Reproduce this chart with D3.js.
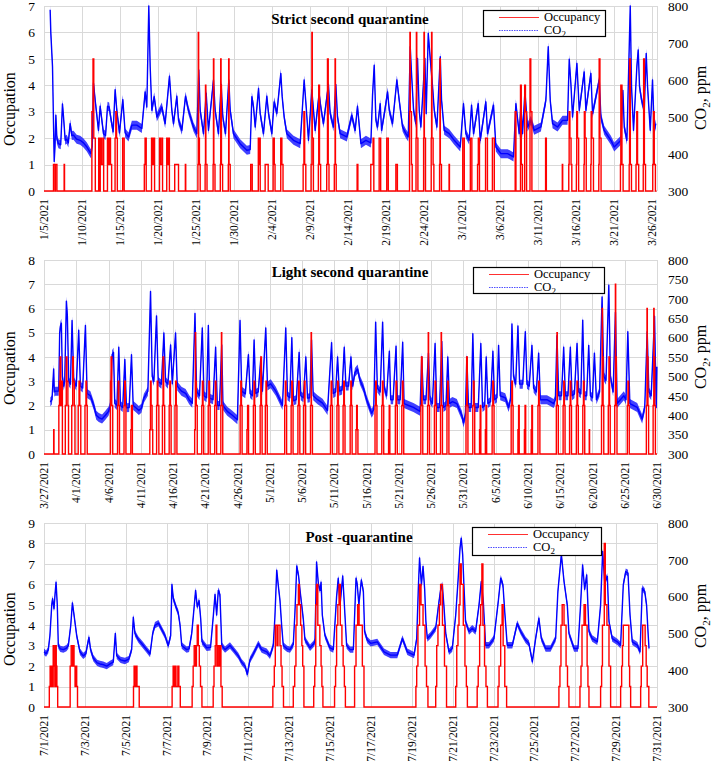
<!DOCTYPE html>
<html><head><meta charset="utf-8">
<script src="https://cdn.jsdelivr.net/npm/d3@7"></script>
<style>body{margin:0;background:#fff} text{font-family:"Liberation Serif","Times New Roman",serif;fill:#000}</style>
</head><body><svg id="c" width="714" height="765"></svg>
<script>
// ---------- DATA (time in days from each panel's first date) ----------
// Panel 1: Strict second quarantine (from 1/5/2021)
const p1Co2 = [[0.81,790],[0.9,726],[1.12,636],[1.34,380],[1.45,420],[1.56,505],[1.7,440],[1.9,428],[2.2,425],[2.43,535],[2.57,500],[2.79,437],[3.0,440],[3.2,430],[3.44,482],[3.66,450],[3.88,451],[4.3,440],[4.76,437],[5.2,430],[5.64,419],[6.16,401],[6.35,420],[6.51,592],[6.73,546],[7.17,464],[7.39,529],[7.83,455],[8.1,450],[8.36,529],[8.57,527],[8.84,491],[9.1,460],[9.36,574],[9.58,518],[9.93,457],[10.37,547],[10.68,457],[11.12,446],[11.56,478],[12.22,478],[12.87,469],[13.31,568],[13.53,527],[13.79,800],[13.97,636],[14.19,518],[14.5,555],[14.85,500],[15.5,527],[15.94,482],[16.51,610],[16.82,518],[17.04,482],[17.48,556],[17.7,491],[18.14,464],[18.62,556],[19.01,518],[19.67,473],[20.11,455],[20.37,627],[20.55,518],[20.99,455],[21.34,564],[21.64,464],[22.3,600],[22.52,518],[22.96,455],[23.31,588],[23.53,500],[23.88,455],[24.32,600],[24.5,518],[24.93,455],[25.81,428],[26.69,410],[27.13,412],[27.35,555],[27.57,527],[27.79,473],[28.23,577],[28.44,510],[28.88,455],[29.32,556],[29.54,510],[29.98,455],[30.28,541],[30.64,510],[31.16,618],[31.34,555],[31.6,500],[31.95,455],[32.83,437],[33.71,428],[34.23,600],[34.5,527],[34.8,437],[35.24,573],[35.68,464],[36.2,564],[36.42,527],[36.77,482],[37.43,588],[37.65,510],[38.09,473],[38.4,588],[38.62,500],[38.97,455],[39.85,446],[40.5,504],[40.94,464],[41.25,529],[41.7,428],[42.36,437],[43.01,430],[43.23,559],[43.45,640],[43.67,491],[43.89,473],[44.24,536],[44.42,464],[44.85,518],[45.21,568],[45.43,518],[45.86,482],[46.43,600],[46.74,545],[47.18,473],[47.62,455],[47.93,446],[48.19,690],[48.36,618],[48.63,518],[48.93,482],[49.15,658],[49.37,518],[49.59,473],[50.12,658],[50.29,509],[50.56,726],[50.82,658],[51.13,582],[51.35,518],[51.7,473],[52.14,663],[52.31,546],[52.66,464],[53.32,455],[53.98,437],[54.77,419],[55.2,536],[55.51,455],[55.95,437],[56.26,532],[56.52,455],[57.14,536],[57.4,437],[58.14,541],[58.36,455],[59.15,532],[59.46,419],[60.12,401],[61.0,401],[61.78,392],[62.09,536],[62.53,455],[62.75,532],[62.97,455],[63.28,568],[63.63,473],[64.07,491],[64.5,464],[65.38,473],[66.04,545],[66.35,690],[66.61,545],[66.92,482],[67.57,473],[68.23,491],[68.89,491],[69.11,656],[69.33,590],[69.55,500],[70.12,645],[70.43,518],[71.08,622],[71.3,518],[71.96,618],[72.18,509],[73.06,600],[73.28,500],[73.71,464],[74.59,437],[75.03,419],[75.91,437],[76.17,572],[76.35,473],[76.7,437],[77.14,800],[77.31,582],[77.57,464],[78.01,636],[78.19,681],[78.36,582],[78.63,546],[78.98,518],[79.24,672],[79.42,582],[79.77,464],[80.07,600],[80.29,464],[80.51,482]];
const p1Occ = [[0,0],[1.25,1],[1.45,0],[1.5,1],[1.7,0],[2.65,1],[2.7,0],[6.3,3],[6.45,5],[6.55,2],[6.75,0],[7.2,2],[7.3,0],[7.4,2],[7.55,1],[7.75,2],[7.85,0],[8.35,2],[8.45,1],[8.6,2],[8.75,1],[8.9,0],[9.35,2],[9.45,3],[9.55,2],[9.65,0],[10.35,2],[10.55,0],[13.2,1],[13.3,2],[13.45,0],[14.15,2],[14.3,1],[14.45,2],[14.55,0],[15.2,2],[15.3,1],[15.5,2],[15.6,0],[16.15,2],[16.3,1],[16.4,2],[16.5,0],[17.2,1],[17.7,0],[18.6,1],[18.65,0],[20.25,1],[20.3,6],[20.35,2],[20.45,1],[20.55,0],[21.2,1],[21.25,4],[21.3,1],[21.45,0],[22.25,1],[22.3,5],[22.35,1],[22.5,0],[23.2,1],[23.25,5],[23.3,4],[23.35,1],[23.5,0],[24.25,1],[24.3,5],[24.35,1],[24.5,0],[27.2,1],[27.4,0],[28.2,2],[28.3,1],[28.4,2],[28.45,0],[29.1,1],[29.5,0],[30.15,2],[30.3,1],[30.4,0],[31.15,2],[31.3,1],[31.45,0],[34.1,1],[34.2,3],[34.3,1],[34.45,0],[35.15,1],[35.25,6],[35.3,2],[35.45,0],[36.1,1],[36.15,4],[36.25,1],[36.4,0],[37.2,1],[37.3,5],[37.4,1],[37.5,0],[38.2,1],[38.3,5],[38.35,1],[38.45,0],[41.2,1],[41.3,0],[43.0,1],[43.3,2],[43.4,0],[44.1,2],[44.3,0],[45.1,2],[45.3,0],[46.3,1],[46.5,0],[48.1,3],[48.15,6],[48.2,3],[48.35,1],[48.45,0],[48.95,2],[49.0,6],[49.05,2],[49.2,0],[49.95,2],[50.0,6],[50.05,2],[50.2,0],[50.95,2],[51.0,6],[51.05,2],[51.2,1],[51.3,0],[52.05,1],[52.1,5],[52.15,1],[52.3,0],[53.3,1],[53.35,0],[55.1,2],[55.3,0],[56.1,2],[56.3,0],[57.05,1],[57.15,2],[57.3,0],[58.1,2],[58.35,0],[59.0,2],[59.25,0],[62.0,3],[62.1,0],[62.7,4],[62.8,1],[62.95,0],[63.25,4],[63.35,3],[63.5,0],[63.95,5],[64.05,3],[64.2,0],[66.0,2],[66.1,0],[68.2,1],[68.25,0],[69.05,1],[69.1,3],[69.2,2],[69.35,1],[69.45,0],[70.05,1],[70.1,3],[70.2,2],[70.35,0],[71.05,1],[71.1,3],[71.2,2],[71.35,0],[71.95,1],[72.0,3],[72.1,2],[72.3,0],[73.0,1],[73.05,5],[73.15,2],[73.3,0],[75.85,1],[75.9,4],[76.05,1],[76.2,0],[77.0,1],[77.05,5],[77.15,1],[77.3,0],[77.9,1],[78.0,3],[78.1,1],[78.25,0],[78.85,1],[78.9,5],[79.0,1],[79.15,0],[80.1,1],[80.2,3],[80.3,1],[80.45,0],[80.6,0]];

// Panel 2: Light second quarantine (from 3/27/2021)
const p2Co2 = [[0.98,434],[1.24,440],[1.5,519],[1.6,460],[1.76,462],[2.28,462],[2.43,612],[2.55,630],[2.69,637],[2.85,500],[3.05,475],[3.21,487],[3.47,694],[3.62,656],[3.83,487],[4.1,480],[4.35,644],[4.61,487],[5.0,475],[5.38,619],[5.64,475],[6.0,470],[6.42,631],[6.68,456],[7.19,450],[7.71,425],[8.1,400],[8.49,394],[9.0,390],[9.52,400],[10.0,410],[10.3,425],[10.56,556],[10.77,562],[10.97,431],[11.3,425],[11.59,575],[11.85,425],[12.2,420],[12.53,544],[12.78,419],[13.2,420],[13.56,556],[13.82,425],[14.2,420],[14.7,412],[15.1,418],[15.48,444],[16.1,462],[16.51,719],[16.77,500],[17.03,487],[17.44,656],[17.7,487],[18.2,480],[18.58,612],[18.84,487],[19.2,480],[19.62,581],[19.88,481],[20.39,612],[20.65,475],[21.3,462],[21.95,456],[22.5,440],[22.98,431],[23.4,662],[23.65,462],[24.1,450],[24.53,625],[24.79,450],[25.2,445],[25.47,631],[25.67,444],[26.2,440],[26.6,575],[26.86,425],[27.2,425],[27.54,581],[27.74,425],[28.4,410],[29.19,400],[29.97,388],[30.38,644],[30.64,462],[31.2,455],[31.68,556],[31.94,456],[32.3,450],[32.56,594],[32.82,456],[33.2,460],[33.59,544],[33.85,462],[34.37,625],[34.63,475],[35.14,481],[35.92,462],[36.44,444],[36.96,425],[37.47,625],[37.73,450],[38.1,445],[38.41,600],[38.66,437],[39.1,440],[39.54,562],[39.8,450],[40.2,445],[40.58,550],[40.84,444],[41.2,445],[41.46,594],[41.72,450],[42.4,440],[43.17,431],[43.94,412],[44.57,587],[44.82,456],[45.2,460],[45.5,550],[45.76,462],[46.2,465],[46.53,575],[46.79,475],[47.2,475],[47.57,550],[47.83,475],[48.19,510],[48.6,519],[48.97,490],[49.5,470],[50.0,440],[50.78,405],[51.1,415],[51.4,640],[51.66,470],[52.1,460],[52.48,640],[52.74,470],[53.1,450],[53.52,565],[53.73,440],[54.1,440],[54.56,578],[54.76,440],[55.2,440],[55.59,588],[55.8,430],[56.5,425],[57.25,420],[58.28,410],[58.54,550],[58.8,440],[59.2,440],[59.58,560],[59.83,440],[60.2,430],[60.61,585],[60.87,420],[61.3,420],[61.65,590],[61.9,420],[62.3,425],[62.58,550],[62.84,430],[63.3,435],[63.98,430],[64.75,400],[65.01,380],[65.3,400],[65.53,550],[65.79,420],[66.2,420],[66.46,610],[66.72,420],[67.3,420],[67.7,585],[67.96,420],[68.3,425],[68.53,550],[68.79,430],[69.2,435],[69.57,565],[69.82,440],[70.2,445],[70.45,580],[70.7,450],[71.48,445],[72.0,420],[72.3,440],[72.52,635],[72.77,500],[73.1,480],[73.45,630],[73.71,480],[74.2,480],[74.59,615],[74.85,480],[75.2,475],[75.62,580],[75.88,470],[76.3,460],[76.66,560],[76.92,440],[77.95,440],[78.99,430],[79.25,440],[79.5,605],[79.76,450],[80.2,450],[80.54,575],[80.8,450],[81.2,450],[81.57,575],[81.83,450],[82.2,455],[82.61,585],[82.87,460],[83.2,455],[83.49,645],[83.75,450],[84.1,450],[84.42,580],[84.68,450],[85.0,445],[85.3,560],[85.61,440],[86.1,460],[86.49,705],[86.75,500],[87.1,490],[87.53,735],[87.78,500],[88.2,460],[88.56,665],[88.82,430],[89.86,450],[90.2,440],[90.48,615],[90.79,430],[91.93,420],[92.7,390],[93.1,420],[93.48,615],[93.74,460],[94.1,450],[94.62,655],[94.88,420],[94.98,525]];
const p2Occ = [[0,0],[1.5,1],[1.55,0],[2.3,2],[2.4,3],[2.5,4],[2.6,2],[2.75,3],[2.85,0],[3.3,2],[3.45,4],[3.55,3],[3.7,2],[3.8,0],[4.3,2],[4.45,4],[4.55,3],[4.7,2],[4.8,0],[5.3,2],[5.43,3],[5.55,2],[5.7,0],[6.35,2],[6.5,3],[6.6,2],[6.7,0],[10.3,3],[10.4,4],[10.5,2],[10.65,0],[11.4,2],[11.5,3],[11.6,2],[11.7,0],[12.4,2],[12.5,3],[12.6,2],[12.7,0],[13.45,1],[13.55,2],[13.7,0],[16.4,1],[16.5,3],[16.6,2],[16.75,1],[16.85,0],[17.45,2],[17.55,3],[17.65,2],[17.8,0],[18.35,2],[18.45,4],[18.55,2],[18.7,0],[19.4,2],[19.5,3],[19.6,2],[19.7,0],[20.3,2],[20.4,3],[20.5,2],[20.6,0],[23.35,1],[23.45,5],[23.5,3],[23.6,2],[23.75,0],[24.45,2],[24.55,3],[24.65,2],[24.75,0],[25.45,2],[25.55,3],[25.65,2],[25.75,0],[26.45,2],[26.55,3],[26.65,2],[26.75,0],[27.4,2],[27.5,5],[27.55,2],[27.7,0],[30.4,2],[30.5,3],[30.6,2],[30.7,0],[31.45,1],[31.55,2],[31.7,0],[32.45,2],[32.55,3],[32.65,2],[32.75,0],[33.5,2],[33.6,4],[33.7,2],[33.8,0],[34.3,2],[34.4,3],[34.5,2],[34.6,0],[37.3,2],[37.4,3],[37.5,2],[37.6,0],[38.3,2],[38.4,3],[38.5,2],[38.6,0],[39.35,2],[39.45,3],[39.55,2],[39.65,0],[40.25,2],[40.35,3],[40.45,2],[40.55,0],[41.3,2],[41.4,5],[41.45,2],[41.6,0],[44.4,2],[44.5,3],[44.6,2],[44.7,0],[45.4,2],[45.5,3],[45.6,2],[45.7,0],[46.35,2],[46.45,3],[46.55,2],[46.65,0],[47.45,2],[47.55,3],[47.65,2],[47.75,0],[48.35,1],[48.45,2],[48.55,1],[48.65,0],[51.3,2],[51.4,3],[51.5,2],[51.6,0],[52.35,2],[52.45,3],[52.55,2],[52.65,0],[53.4,1],[53.5,2],[53.6,0],[54.45,2],[54.55,3],[54.65,2],[54.75,0],[55.45,2],[55.55,3],[55.65,2],[55.75,0],[58.4,2],[58.5,4],[58.6,2],[58.7,0],[59.45,2],[59.55,5],[59.6,2],[59.75,0],[60.5,2],[60.6,3],[60.7,2],[60.8,0],[61.45,2],[61.55,5],[61.6,2],[61.75,0],[62.45,2],[62.55,3],[62.65,2],[62.75,0],[65.4,2],[65.5,4],[65.6,2],[65.7,0],[66.45,2],[66.55,3],[66.65,2],[66.75,0],[67.5,1],[67.6,2],[67.7,0],[68.4,1],[68.5,2],[68.6,0],[69.45,2],[69.55,3],[69.65,2],[69.75,0],[72.4,2],[72.5,3],[72.6,2],[72.7,0],[73.45,1],[73.55,2],[73.65,0],[74.45,1],[74.55,2],[74.65,0],[75.5,1],[75.6,2],[75.7,0],[76.55,2],[76.65,3],[76.75,2],[76.85,0],[79.4,2],[79.5,5],[79.55,2],[79.7,0],[80.45,2],[80.55,3],[80.65,2],[80.75,0],[81.45,2],[81.55,3],[81.65,2],[81.75,0],[82.5,2],[82.6,3],[82.7,2],[82.8,0],[83.5,2],[83.6,3],[83.7,2],[83.8,0],[84.5,1],[84.55,0],[86.4,2],[86.5,6],[86.55,4],[86.65,2],[86.75,0],[87.45,2],[87.55,4],[87.65,2],[87.75,0],[88.45,2],[88.55,7],[88.6,4],[88.7,2],[88.8,0],[90.4,2],[90.5,3],[90.6,2],[90.7,0],[93.35,2],[93.45,6],[93.5,4],[93.6,2],[93.7,0],[94.4,2],[94.5,6],[94.55,4],[94.65,2],[94.75,0],[95,0]];

// Panel 3: Post-quarantine (from 7/1/2021)
const p3Co2 = [[0,450],[0.1,445],[0.21,455],[0.29,494],[0.38,578],[0.42,594],[0.49,567],[0.54,606],[0.59,639],[0.65,578],[0.7,467],[0.8,458],[0.95,456],[1.1,460],[1.19,467],[1.31,522],[1.39,583],[1.47,550],[1.6,494],[1.76,450],[1.92,439],[2.05,445],[2.12,467],[2.2,489],[2.28,456],[2.41,433],[2.6,420],[2.74,417],[2.9,415],[3.07,411],[3.25,418],[3.39,422],[3.49,500],[3.56,439],[3.75,428],[3.96,425],[4.15,430],[4.29,456],[4.37,544],[4.45,500],[4.62,483],[4.86,467],[5.02,456],[5.19,444],[5.32,500],[5.43,522],[5.6,528],[5.76,511],[5.92,494],[6.08,467],[6.2,494],[6.26,633],[6.33,594],[6.46,572],[6.57,556],[6.66,522],[6.74,467],[6.98,456],[7.1,458],[7.23,500],[7.34,567],[7.42,617],[7.5,572],[7.59,589],[7.67,539],[7.73,478],[7.96,461],[8.15,462],[8.29,550],[8.37,606],[8.45,550],[8.53,617],[8.61,606],[8.7,467],[8.86,456],[9.1,467],[9.27,456],[9.51,439],[9.67,422],[9.84,411],[9.95,389],[10.08,428],[10.24,444],[10.49,472],[10.65,456],[10.9,450],[11.06,439],[11.22,467],[11.3,544],[11.39,672],[11.47,628],[11.55,589],[11.63,522],[11.71,467],[11.9,458],[12.04,456],[12.2,470],[12.28,556],[12.37,683],[12.46,656],[12.53,617],[12.61,578],[12.69,539],[12.77,483],[13.02,461],[13.2,472],[13.26,478],[13.34,694],[13.43,633],[13.51,617],[13.56,639],[13.62,550],[13.75,494],[13.99,461],[14.16,456],[14.32,600],[14.4,650],[14.49,578],[14.62,656],[14.7,578],[14.81,467],[14.98,456],[15.14,456],[15.27,650],[15.33,633],[15.41,578],[15.53,645],[15.63,614],[15.69,505],[15.82,482],[15.99,473],[16.31,477],[16.64,450],[16.96,441],[17.29,441],[17.54,486],[17.78,450],[18.11,441],[18.24,486],[18.32,623],[18.38,705],[18.47,632],[18.55,682],[18.63,620],[18.69,532],[18.76,486],[18.92,495],[19.17,514],[19.33,586],[19.41,618],[19.49,632],[19.57,577],[19.66,500],[19.82,450],[19.98,459],[20.15,550],[20.26,641],[20.36,732],[20.42,759],[20.49,714],[20.55,632],[20.63,532],[20.8,505],[20.96,514],[21.12,505],[21.29,577],[21.4,641],[21.5,586],[21.61,468],[21.78,468],[22.02,486],[22.23,586],[22.35,650],[22.46,632],[22.56,550],[22.67,468],[22.92,468],[23.16,527],[23.33,505],[23.57,482],[23.73,473],[23.9,423],[24.06,486],[24.22,541],[24.34,486],[24.55,459],[24.79,459],[25.04,486],[25.15,614],[25.32,714],[25.45,641],[25.61,577],[25.69,500],[25.94,459],[26.13,459],[26.26,577],[26.36,686],[26.46,620],[26.56,659],[26.67,505],[26.83,486],[27.08,477],[27.24,577],[27.34,723],[27.44,641],[27.57,655],[27.65,532],[27.81,486],[28.06,477],[28.22,468],[28.35,632],[28.47,668],[28.58,664],[28.68,550],[28.79,477],[29.04,468],[29.17,450],[29.28,623],[29.4,614],[29.49,577],[29.57,495],[29.61,459]];
const p3Occ = [[0,0],[0.26,1],[0.3,2],[0.33,1],[0.38,2],[0.42,1],[0.45,3],[0.5,2],[0.53,1],[0.57,3],[0.6,2],[0.63,1],[0.67,0],[1.28,2],[1.33,3],[1.4,2],[1.44,3],[1.47,2],[1.52,1],[1.57,2],[1.6,1],[1.64,0],[4.38,1],[4.41,2],[4.45,1],[4.52,2],[4.55,1],[4.66,0],[6.27,1],[6.32,2],[6.36,1],[6.42,2],[6.46,1],[6.55,2],[6.6,1],[6.67,0],[7.25,1],[7.3,2],[7.35,3],[7.42,2],[7.46,3],[7.5,4],[7.55,3],[7.6,2],[7.66,1],[7.73,0],[8.28,1],[8.32,2],[8.38,3],[8.42,4],[8.46,2],[8.5,3],[8.57,2],[8.62,3],[8.66,1],[8.72,0],[11.2,1],[11.27,2],[11.32,4],[11.4,3],[11.45,4],[11.55,3],[11.6,2],[11.65,1],[11.72,0],[12.2,1],[12.27,2],[12.33,4],[12.38,5],[12.45,6],[12.5,5],[12.56,4],[12.62,3],[12.66,2],[12.72,0],[13.2,1],[13.25,2],[13.3,5],[13.34,6],[13.4,4],[13.5,3],[13.56,2],[13.6,1],[13.65,0],[14.22,1],[14.27,2],[14.32,4],[14.38,5],[14.44,6],[14.5,4],[14.58,3],[14.64,2],[14.7,1],[14.75,0],[15.2,2],[15.27,4],[15.35,5],[15.42,4],[15.52,4],[15.58,2],[15.66,0],[18.2,1],[18.24,2],[18.3,4],[18.38,6],[18.45,5],[18.55,4],[18.65,2],[18.72,1],[18.79,0],[19.17,1],[19.22,3],[19.28,4],[19.35,5],[19.41,6],[19.5,4],[19.6,2],[19.7,0],[20.15,1],[20.2,3],[20.26,4],[20.31,5],[20.36,7],[20.42,6],[20.52,4],[20.6,2],[20.67,1],[20.72,0],[21.2,1],[21.25,2],[21.32,4],[21.37,5],[21.43,7],[21.48,4],[21.56,2],[21.63,1],[21.7,0],[22.22,1],[22.27,2],[22.35,4],[22.42,5],[22.47,3],[22.55,1],[22.64,0],[25.2,1],[25.25,2],[25.3,4],[25.36,5],[25.45,4],[25.55,2],[25.62,1],[25.69,0],[26.23,1],[26.28,2],[26.33,4],[26.43,5],[26.5,4],[26.58,2],[26.62,1],[26.67,0],[27.24,1],[27.29,2],[27.33,4],[27.42,8],[27.47,5],[27.55,4],[27.65,2],[27.73,0],[28.22,1],[28.27,2],[28.31,3],[28.35,4],[28.58,4],[28.62,2],[28.66,1],[28.71,0],[29.2,1],[29.23,2],[29.3,4],[29.42,3],[29.47,2],[29.52,1],[29.6,0],[30,0]];

const titles = ["Strict second quarantine", "Light second quarantine", "Post -quarantine"];
const startDates = ["2021-01-05", "2021-03-27", "2021-07-01"];
const spanDays = [80.66, 95, 30];
const occMax = [7, 8, 9];
const co2TickStep = [100, 50, 100];
const dateTickStep = [5, 5, 2];
const legendLabels = ["Occupancy", "CO"];

// ---------- LAYOUT / STYLE ----------
const layout = [
  {top: 6, bottom: 191, titleX: 350, titleY: 24, leg: [483, 10, 122, 26], occLabY: 109, co2LabY: 98, band: 4.5},
  {top: 260, bottom: 454, titleX: 350, titleY: 277, leg: [473, 267, 131, 26], occLabY: 368, co2LabY: 357, band: 4.5},
  {top: 523, bottom: 707, titleX: 359, titleY: 542, leg: [472, 527, 129, 28], occLabY: 629, co2LabY: 616, band: 3.2}
];
const X0 = 44, X1 = 657;
const DAY = 86400000;
const svg = d3.select("#c");
const fmt = d => (d.getMonth() + 1) + "/" + d.getDate() + "/" + d.getFullYear();
const parse = s => { const [y, m, d] = s.split("-").map(Number); return new Date(y, m - 1, d); };

const series = [[p1Co2, p1Occ], [p2Co2, p2Occ], [p3Co2, p3Occ]];

series.forEach(([co2, occ], i) => {
  const L = layout[i];
  const start = parse(startDates[i]);
  const toDate = t => new Date(start.getTime() + t * DAY);
  const x = d3.scaleTime().domain([start, toDate(spanDays[i])]).range([X0, X1]);
  const yL = d3.scaleLinear().domain([0, occMax[i]]).range([L.bottom, L.top]);
  const yR = d3.scaleLinear().domain([300, 800]).range([L.bottom, L.top]);
  const g = svg.append("g");

  // grid
  const dTicks = d3.range(0, spanDays[i] + 0.01, dateTickStep[i]).map(k => d3.timeDay.offset(start, k));
  g.selectAll(".hg").data(d3.range(0, occMax[i] + 1)).join("line")
    .attr("x1", X0).attr("x2", X1).attr("y1", d => Math.round(yL(d)) + 0.5).attr("y2", d => Math.round(yL(d)) + 0.5)
    .attr("stroke", "#d9d9d9").attr("stroke-width", 1);
  g.selectAll(".vg").data(dTicks).join("line")
    .attr("x1", d => Math.round(x(d)) + 0.5).attr("x2", d => Math.round(x(d)) + 0.5).attr("y1", L.top).attr("y2", L.bottom)
    .attr("stroke", "#d9d9d9").attr("stroke-width", 1);
  g.append("line").attr("x1", X0 + 0.5).attr("x2", X0 + 0.5).attr("y1", L.top).attr("y2", L.bottom).attr("stroke", "#d9d9d9");
  g.append("line").attr("x1", X1 + 0.5).attr("x2", X1 + 0.5).attr("y1", L.top).attr("y2", L.bottom).attr("stroke", "#d9d9d9");

  // CO2: noise band (vertical thickness around the read values) + line
  const areaC = d3.area().x(d => x(toDate(d[0])))
    .y0(d => yR(d[1]) + L.band).y1(d => yR(d[1]) - L.band);
  g.append("path").datum(co2).attr("d", areaC).attr("fill", "#2020ff").attr("fill-opacity", 0.85);
  const lineC = d3.line().x(d => x(toDate(d[0]))).y(d => yR(d[1]));
  g.append("path").datum(co2).attr("d", lineC).attr("fill", "none")
    .attr("stroke", "#0000ff").attr("stroke-width", 1.4).attr("stroke-linejoin", "round");

  // Occupancy step line
  const lineO = d3.line().x(d => x(toDate(d[0]))).y(d => yL(d[1])).curve(d3.curveStepAfter);
  g.append("path").datum(occ).attr("d", lineO).attr("fill", "none")
    .attr("stroke", "#ff0000").attr("stroke-width", 1.4);

  // left ticks
  g.selectAll(".lt").data(d3.range(0, occMax[i] + 1)).join("text")
    .attr("x", 35).attr("y", d => yL(d)).attr("dy", "0.35em").attr("text-anchor", "end")
    .attr("font-size", 13.5).text(d => d);
  // right ticks
  g.selectAll(".rt").data(d3.range(300, 801, co2TickStep[i])).join("text")
    .attr("x", 668).attr("y", d => yR(d)).attr("dy", "0.35em").attr("text-anchor", "start")
    .attr("font-size", 13.5).text(d => d);
  // date ticks
  g.selectAll(".xt").data(dTicks).join("text")
    .attr("transform", d => `translate(${x(d)},${L.bottom + 8}) rotate(-90)`)
    .attr("dy", "0.35em").attr("text-anchor", "end").attr("font-size", 11.5).text(fmt);

  // axis titles
  g.append("text").attr("transform", `translate(15,${L.occLabY}) rotate(-90)`)
    .attr("text-anchor", "middle").attr("font-size", 16).text("Occupation");
  const t2 = g.append("text").attr("transform", `translate(706,${L.co2LabY}) rotate(-90)`)
    .attr("text-anchor", "middle").attr("font-size", 16);
  t2.append("tspan").text("CO");
  t2.append("tspan").attr("font-size", 11).attr("dy", 4).text("2");
  t2.append("tspan").attr("dy", -4).text(", ppm");

  // title
  g.append("text").attr("x", L.titleX).attr("y", L.titleY).attr("text-anchor", "middle")
    .attr("font-size", 15).attr("font-weight", "bold").text(titles[i]);

  // legend
  const [lx, ly, lw, lh] = L.leg;
  g.append("rect").attr("x", lx + 0.5).attr("y", ly + 0.5).attr("width", lw).attr("height", lh)
    .attr("fill", "#fff").attr("stroke", "#000").attr("stroke-width", 1.2);
  g.append("line").attr("x1", lx + 16).attr("x2", lx + 56).attr("y1", ly + 7.5).attr("y2", ly + 7.5)
    .attr("stroke", "#ff3030").attr("stroke-width", 1.2);
  g.append("text").attr("x", lx + 61).attr("y", ly + 11)
    .attr("font-size", 12.5).text(legendLabels[0]);
  g.append("line").attr("x1", lx + 16).attr("x2", lx + 56).attr("y1", ly + 20.5).attr("y2", ly + 20.5)
    .attr("stroke", "#5050ff").attr("stroke-width", 1).attr("stroke-dasharray", "1.5,1");
  const lt = g.append("text").attr("x", lx + 61).attr("y", ly + 24).attr("font-size", 12.5);
  lt.append("tspan").text(legendLabels[1]);
  lt.append("tspan").attr("font-size", 9).attr("dy", 3).text("2");
});
</script></body></html>
